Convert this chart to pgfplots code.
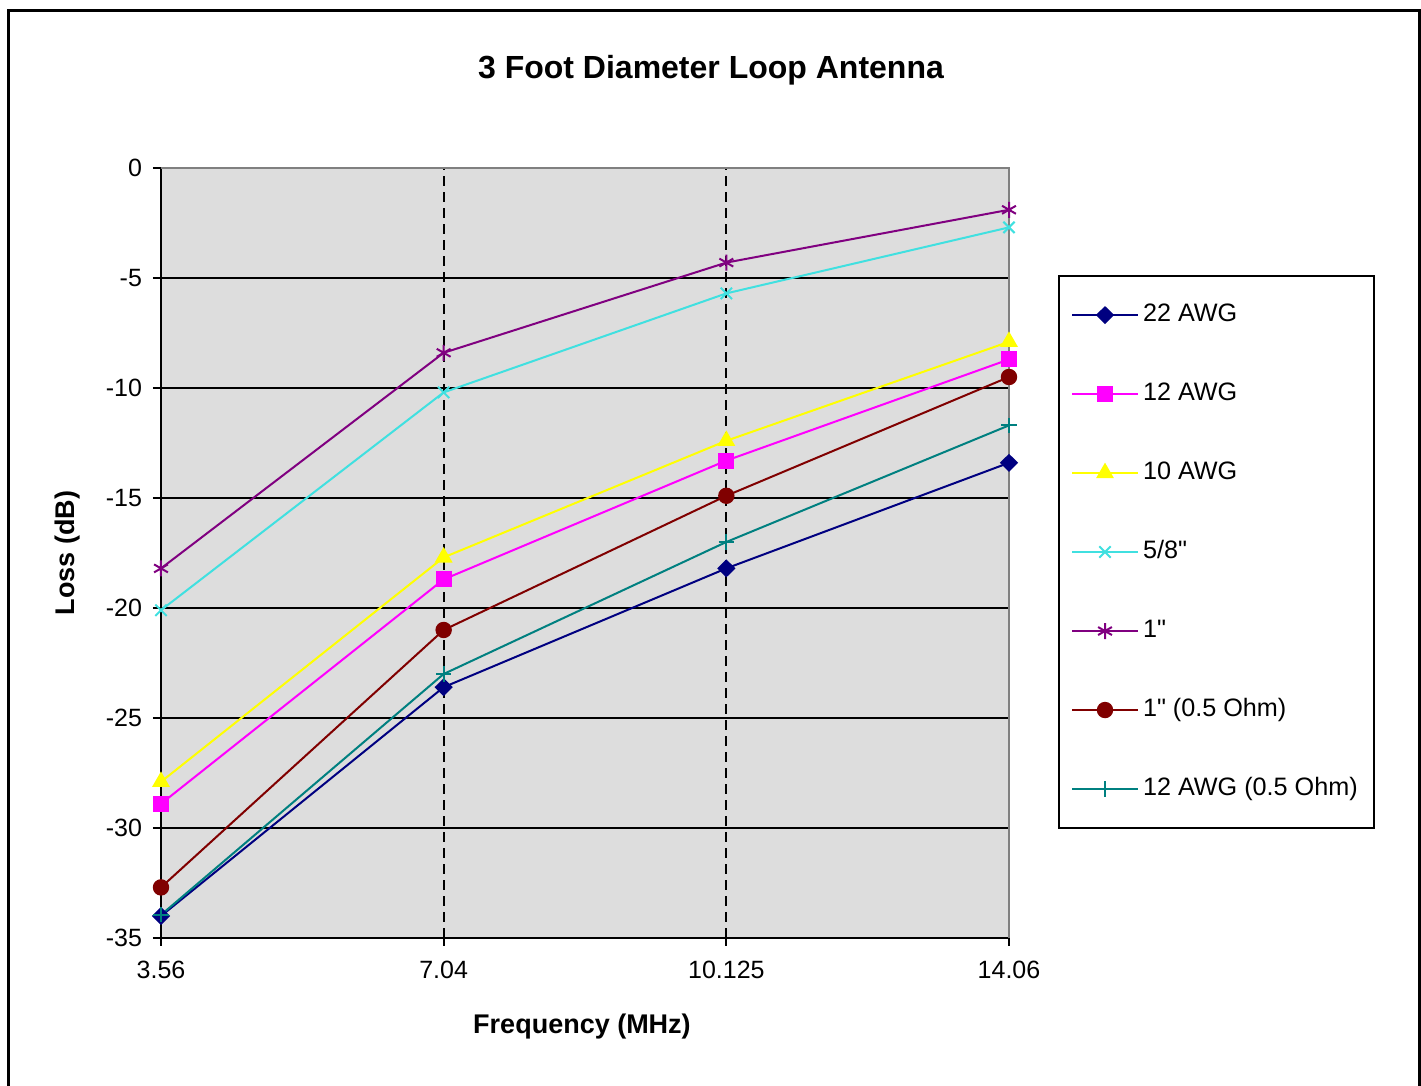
\documentclass[border=0pt]{standalone}
\usepackage{fontspec}
\setmainfont{Liberation Sans}[Ligatures=TeXOff]
\usepackage{pgfplots}
\pgfplotsset{compat=1.18}
\usetikzlibrary{plotmarks}
\definecolor{cnavy}{RGB}{0,0,128}
\definecolor{cmag}{RGB}{255,0,255}
\definecolor{cyel}{RGB}{255,255,0}
\definecolor{ccyan}{RGB}{64,224,224}
\definecolor{cpurp}{RGB}{128,0,128}
\definecolor{cdred}{RGB}{128,0,0}
\definecolor{cteal}{RGB}{0,128,128}
\definecolor{bgc}{RGB}{221,221,221}
\newcommand{\inch}{\symbol{34}}
\begin{document}
\begin{tikzpicture}
\useasboundingbox (0pt,0pt) rectangle (710.5pt,543pt);
\begin{scope}[x=0.5pt,y=-0.5pt,shift={(0pt,543pt)}]
\draw[line width=1.5pt] (8.5,1100) -- (8.5,10.5) -- (1419,10.5) -- (1419,1100);
\node[font=\bfseries\fontsize{16}{19}\selectfont] at (711,70) {3 Foot Diameter Loop Antenna};
\node[font=\bfseries\fontsize{13.5}{16}\selectfont] at (582,1027) {Frequency (MHz)};
\node[font=\bfseries\fontsize{13.5}{16}\selectfont, rotate=90] at (68,553) {Loss (dB)};
\end{scope}
\begin{axis}[
  at={(80.5pt,74pt)}, anchor=south west,
  scale only axis, width=424pt, height=385pt,
  xmin=0, xmax=3, ymin=-35, ymax=0,
  clip=false,
  axis x line*=bottom, axis y line*=left,
  axis line style={black, line width=1pt, -},
  xtick={0,1,2,3}, xticklabels={3.56,7.04,10.125,14.06},
  ytick={-35,-30,-25,-20,-15,-10,-5,0},
  yticklabels={-35,-30,-25,-20,-15,-10,-5,0},
  tick align=outside, major tick length=4pt,
  tick style={black, line width=1pt},
  ticklabel style={font=\fontsize{12.5}{15}\selectfont},
  xticklabel style={yshift=-4pt},
  yticklabel style={xshift=-2pt},
  axis background/.style={fill=bgc},
  legend style={at={(1.0578,0.861)}, anchor=north west, draw=black, line width=1pt, fill=white,
    inner xsep=6pt, inner ysep=11.5pt, row sep=23.5pt,
    nodes={inner sep=2pt, text height=9pt, text depth=3pt, font=\fontsize{12.6}{15}\selectfont},
    cells={anchor=west}},
  legend image code/.code={\draw[mark repeat=2,mark phase=2] plot coordinates {(0pt,0pt)(16.5pt,0pt)(33pt,0pt)};},
  every axis plot/.append style={line width=1pt},
]
\pgfplotsinvokeforeach{-30,-25,-20,-15,-10,-5}{
  \draw[black, line width=1pt] (axis cs:0,#1) -- (axis cs:3,#1);
}
\draw[black, line width=1pt, dash pattern=on 5pt off 3pt] (axis cs:1,-35) -- (axis cs:1,0);
\draw[black, line width=1pt, dash pattern=on 5pt off 3pt] (axis cs:2,-35) -- (axis cs:2,0);
\draw[gray, line width=1pt] (axis cs:0,0) -- (axis cs:3,0) -- (axis cs:3,-35);

\addplot[color=cnavy, mark=diamond*, mark size=3.8pt, mark options={fill=cnavy, solid, xscale=1.35}] coordinates {(0,-34.0) (1,-23.6) (2,-18.2) (3,-13.4)};
\addlegendentry{22 AWG}
\addplot[color=cmag, mark=square*, mark size=3.5pt, mark options={fill=cmag, solid}] coordinates {(0,-28.9) (1,-18.7) (2,-13.3) (3,-8.7)};
\addlegendentry{12 AWG}
\addplot[color=cyel, mark=triangle*, mark size=4.2pt, mark options={fill=cyel, solid}] coordinates {(0,-27.9) (1,-17.7) (2,-12.4) (3,-7.9)};
\addlegendentry{10 AWG}
\addplot[color=ccyan, mark=x, mark size=4pt, mark options={solid}] coordinates {(0,-20.1) (1,-10.2) (2,-5.7) (3,-2.7)};
\addlegendentry{5/8\inch}
\addplot[color=cpurp, mark=asterisk, mark size=4pt, mark options={solid}] coordinates {(0,-18.2) (1,-8.4) (2,-4.3) (3,-1.9)};
\addlegendentry{1\inch}
\addplot[color=cdred, mark=*, mark size=3.6pt, mark options={fill=cdred, solid}] coordinates {(0,-32.7) (1,-21.0) (2,-14.9) (3,-9.5)};
\addlegendentry{1\inch{} (0.5 Ohm)}
\addplot[color=cteal, mark=+, mark size=3.8pt, mark options={solid}] coordinates {(0,-33.95) (1,-23.0) (2,-17.0) (3,-11.7)};
\addlegendentry{12 AWG (0.5 Ohm)}
\end{axis}
\end{tikzpicture}
\end{document}
